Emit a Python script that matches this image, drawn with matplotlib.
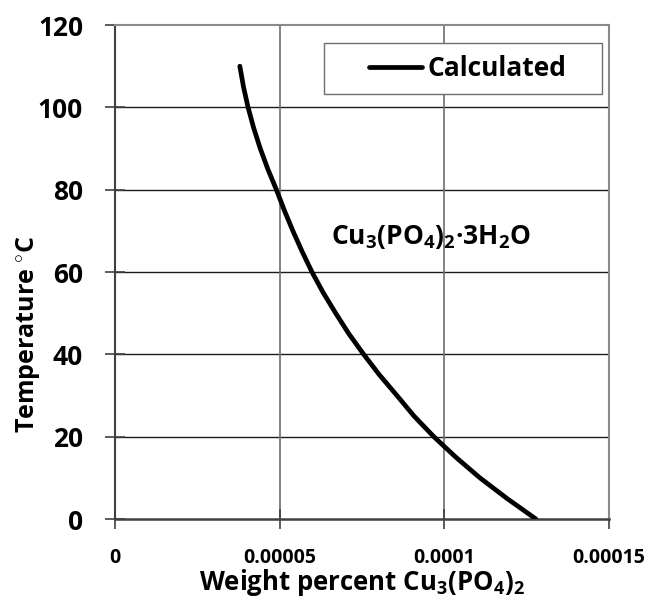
import matplotlib
matplotlib.use("Agg")
import matplotlib.pyplot as plt
from matplotlib.patches import Rectangle

FONT = 'Open Sans'
plt.rcParams['font.family'] = [FONT, 'DejaVu Sans']
plt.rcParams['font.weight'] = 'bold'
plt.rcParams['mathtext.fontset'] = 'custom'
plt.rcParams['mathtext.rm'] = FONT + ':bold'
plt.rcParams['mathtext.it'] = FONT + ':bold'
plt.rcParams['mathtext.bf'] = FONT + ':bold'
plt.rcParams['mathtext.default'] = 'rm'

# curve
temperature = [110, 105, 100, 95, 90, 85, 80, 75, 70, 65, 60, 55, 50,
               45, 40, 35, 30, 25, 20, 15, 10, 5, 0]
weight_pct = [3.79e-5, 3.90e-5, 4.04e-5, 4.21e-5, 4.41e-5, 4.64e-5,
              4.90e-5, 5.14e-5, 5.40e-5, 5.68e-5, 5.98e-5, 6.32e-5,
              6.70e-5, 7.10e-5, 7.55e-5, 8.03e-5, 8.56e-5, 9.08e-5,
              9.68e-5, 1.035e-4, 1.108e-4, 1.19e-4, 1.278e-4]

x_ticks = [0, 0.00005, 0.0001, 0.00015]
x_tick_labels = ["0", "0.00005", "0.0001", "0.00015"]
y_ticks = [0, 20, 40, 60, 80, 100, 120]

fig = plt.figure(figsize=(6.55, 6.04), dpi=100)
ax = fig.add_axes([0.1756, 0.1407, 0.7542, 0.8179])

ax.plot(weight_pct, temperature, color='black', lw=3.4, label='Calculated',
        solid_capstyle='round', solid_joinstyle='round', zorder=3)

ax.set_xlim(0, 0.00015)
ax.set_ylim(0, 120)
ax.set_xticks(x_ticks)
ax.set_xticklabels(x_tick_labels)
ax.set_yticks(y_ticks)

# gridlines
for yv in y_ticks[1:-1]:
    ax.axhline(yv, color='#1a1a1a', lw=1.0, zorder=1)
for xv in x_ticks[1:-1]:
    ax.axvline(xv, color='#6e6e6e', lw=1.2, zorder=1)

for side in ['top', 'right']:
    ax.spines[side].set_color('#8a8a8a')
    ax.spines[side].set_linewidth(1.5)
ax.spines['left'].set_color('#404040')
ax.spines['left'].set_linewidth(1.5)
ax.spines['bottom'].set_color('#404040')
ax.spines['bottom'].set_linewidth(1.8)

ax.tick_params(axis='y', direction='inout', length=14, width=1.2,
               color='#404040', labelsize=19, pad=16)
ax.tick_params(axis='x', direction='inout', length=14, width=1.2,
               color='#404040', labelsize=14, pad=14)
for lbl in ax.get_xticklabels() + ax.get_yticklabels():
    lbl.set_fontweight('bold')

ax.set_xlabel(r'Weight percent Cu$_3$(PO$_4$)$_2$', fontsize=18.5,
              fontweight='bold', labelpad=-1)
ax.set_ylabel(r'Temperature $^{\circ}$C', fontsize=18, fontweight='bold')
ax.yaxis.set_label_coords(-0.148, 0.375)

ax.text(0.0000655, 68.5, r'Cu$_3$(PO$_4$)$_2$·3H$_2$O', fontsize=19,
        fontweight='bold', va='center', ha='left')

# legend: Excel-style wide white box
box = Rectangle((0.423, 0.860), 0.563, 0.1036, transform=ax.transAxes,
                facecolor='white', edgecolor='#6e6e6e', lw=1.0, zorder=4)
ax.add_patch(box)
leg = ax.legend(loc='center left', bbox_to_anchor=(0.514, 0.9118),
                fontsize=19, frameon=False, handlelength=2.0,
                handletextpad=0.22, borderpad=0, borderaxespad=0)
leg.set_zorder(5)
for t in leg.get_texts():
    t.set_fontweight('bold')

fig.savefig('out.png', dpi=100)
